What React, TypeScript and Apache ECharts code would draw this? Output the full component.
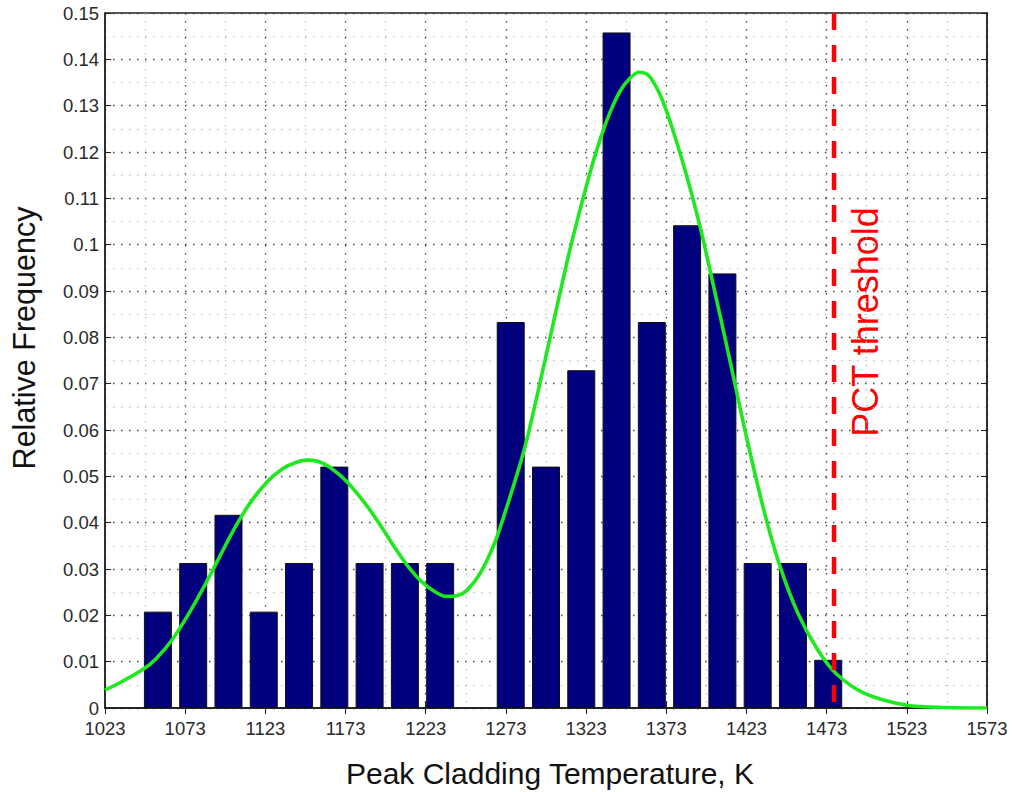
import React, { useEffect, useRef } from "react";
import * as echarts from "echarts";

// Histogram bin centres (K) and relative frequency
const binCenters = [1056, 1078, 1100, 1122, 1144, 1166, 1188, 1210, 1232, 1254, 1276, 1298, 1320, 1342, 1364, 1386, 1408, 1430, 1452, 1474];
const relFreq = [0.0208, 0.0313, 0.0417, 0.0208, 0.0313, 0.0521, 0.0313, 0.0313, 0.0313, 0, 0.0833, 0.0521, 0.0729, 0.1458, 0.0833, 0.1042, 0.0938, 0.0313, 0.0313, 0.0104];

// Fitted density curve
const curveT = [1023, 1032, 1047, 1055, 1065, 1076, 1086, 1095, 1103, 1113, 1124, 1134, 1142, 1149, 1156, 1163, 1174, 1186, 1195, 1203, 1211, 1222, 1236, 1243, 1249, 1257, 1265, 1271, 1285, 1298, 1307, 1314, 1325, 1332, 1338, 1344, 1350, 1356, 1362, 1368, 1373, 1379, 1386, 1394, 1402, 1413, 1423, 1434, 1444, 1455, 1467, 1479, 1497, 1523, 1548, 1573];
const curveV = [0.0039, 0.0054, 0.0084, 0.0107, 0.0148, 0.0208, 0.0270, 0.0330, 0.0383, 0.0440, 0.0488, 0.0517, 0.0530, 0.0535, 0.0532, 0.0520, 0.0488, 0.0438, 0.0393, 0.0350, 0.0310, 0.0268, 0.0241, 0.0243, 0.0255, 0.0291, 0.0348, 0.0406, 0.0565, 0.0760, 0.0900, 0.1005, 0.1150, 0.1230, 0.1286, 0.1330, 0.1358, 0.1372, 0.1365, 0.1332, 0.1290, 0.1227, 0.1145, 0.1040, 0.0918, 0.0745, 0.0585, 0.0425, 0.0305, 0.0205, 0.0128, 0.0074, 0.0031, 0.0006, 0.0001, 0];

// Threshold
const pctThreshold = 1477.6;

// Axis settings
const xMin = 1023;
const xMax = 1573;
const xStep = 50;
const yMin = 0;
const yMax = 0.15;
const yStep = 0.01;

const FONT = "'Liberation Sans', Arial, sans-serif";

export default function App() {
  const ref = useRef<HTMLDivElement>(null);

  useEffect(() => {
    if (!ref.current) return;
    const chart = echarts.init(ref.current, undefined, { renderer: "svg" });

    const barData = binCenters
      .map((t, i) => [t, relFreq[i]])
      .filter((d) => d[1] > 0);
    const curveData = curveT.map((t, i) => [t, curveV[i]]);

    const majorSplit = { show: true, lineStyle: { color: "#444", width: 1.3, type: [1.5, 6.5] } };
    const minorSplit = { show: true, lineStyle: { color: "#b5b5b5", width: 1.1, type: [1.5, 6.5] } };

    chart.setOption({
      animation: false,
      backgroundColor: "#ffffff",
      grid: {
        left: 105,
        right: 26,
        top: 13,
        bottom: 84,
        show: true,
        borderColor: "#222",
        borderWidth: 1.5,
        backgroundColor: "transparent",
      },
      xAxis: [
        {
          type: "value",
          min: xMin,
          max: xMax,
          interval: xStep,
          position: "bottom",
          axisLine: { show: true, lineStyle: { color: "#222", width: 1.5 } },
          axisTick: { show: true, inside: true, length: 6, lineStyle: { color: "#222" } },
          axisLabel: {
            color: "#2a2a2a",
            fontSize: 18.5,
            fontFamily: FONT,
            margin: 11,
            formatter: (v: number) => String(Math.round(v)),
          },
          splitLine: majorSplit,
          minorTick: { show: false, splitNumber: 2 },
          minorSplitLine: minorSplit,
        },
        {
          type: "value",
          min: xMin,
          max: xMax,
          interval: xStep,
          position: "top",
          axisLine: { show: true, lineStyle: { color: "#222", width: 1.5 } },
          axisTick: { show: true, inside: true, length: 6, lineStyle: { color: "#222" } },
          axisLabel: { show: false },
          splitLine: { show: false },
        },
      ],
      yAxis: [
        {
          type: "value",
          min: yMin,
          max: yMax,
          interval: yStep,
          position: "left",
          axisLine: { show: true, lineStyle: { color: "#222", width: 1.5 } },
          axisTick: { show: true, inside: true, length: 6, lineStyle: { color: "#222" } },
          axisLabel: { color: "#2a2a2a", fontSize: 18.5, fontFamily: FONT, margin: 6 },
          splitLine: majorSplit,
          minorTick: { show: false, splitNumber: 2 },
          minorSplitLine: minorSplit,
        },
        {
          type: "value",
          min: yMin,
          max: yMax,
          interval: yStep,
          position: "right",
          axisLine: { show: true, lineStyle: { color: "#222", width: 1.5 } },
          axisTick: { show: true, inside: true, length: 6, lineStyle: { color: "#222" } },
          axisLabel: { show: false },
          splitLine: { show: false },
        },
      ],
      series: [
        {
          type: "bar",
          data: barData,
          barWidth: 28,
          itemStyle: { color: "#00007f", borderColor: "#111", borderWidth: 1 },
          z: 2,
        },
        {
          type: "line",
          data: curveData,
          smooth: 0.3,
          showSymbol: false,
          lineStyle: { color: "#1ee81e", width: 3.6 },
          z: 3,
        },
        {
          type: "line",
          data: [
            [pctThreshold, yMax],
            [pctThreshold, yMin],
          ],
          showSymbol: false,
          lineStyle: { color: "#ff0000", width: 4.5, type: [17, 15] },
          z: 4,
        },
      ],
      graphic: [
        {
          type: "text",
          x: 24,
          y: 338,
          rotation: Math.PI / 2,
          style: {
            text: "Relative Frequency",
            fill: "#111",
            font: `30.5px ${FONT}`,
            align: "center",
            verticalAlign: "middle",
          },
        },
        {
          type: "text",
          x: 550,
          y: 773,
          style: {
            text: "Peak Cladding Temperature, K",
            fill: "#111",
            font: `30px ${FONT}`,
            align: "center",
            verticalAlign: "middle",
          },
        },
        {
          type: "text",
          x: 865,
          y: 322,
          rotation: Math.PI / 2,
          style: {
            text: "PCT threshold",
            fill: "#ff0000",
            font: `36px ${FONT}`,
            align: "center",
            verticalAlign: "middle",
          },
        },
      ],
    });

    return () => chart.dispose();
  }, []);

  return (
    <div
      ref={ref}
      style={{ position: "fixed", left: 0, top: 0, width: 1013, height: 792, background: "#fff" }}
    />
  );
}
